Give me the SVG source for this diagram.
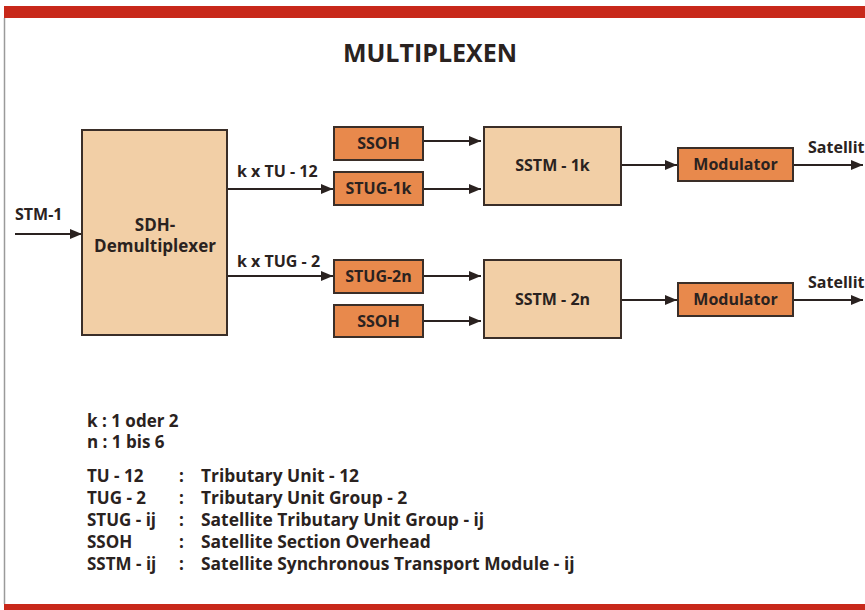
<svg xmlns="http://www.w3.org/2000/svg" width="865" height="610" viewBox="0 0 865 610">
<style>
text{font-family:"Open Sans","Noto Sans","Liberation Sans",sans-serif;font-weight:bold;fill:#2a2220}
.lbl{font-size:16px}
.leg{font-size:17px}
.lg2{font-size:17.4px}
.big{fill:#f2cfa6;stroke:#3a2e28;stroke-width:2}
.org{fill:#e8894c;stroke:#3a2e28;stroke-width:2}
.c{text-anchor:middle}
.ln{stroke:#2a2220;stroke-width:2;fill:none;marker-end:url(#ah)}
</style>
<defs>
<marker id="ah" viewBox="0 0 12 10" refX="12" refY="5" markerWidth="12" markerHeight="10" markerUnits="userSpaceOnUse" orient="auto">
<path d="M0,0 L12,5 L0,10 Z" fill="#2a2220"/>
</marker>
</defs>
<rect x="0" y="0" width="865" height="610" fill="#ffffff"/>
<rect x="4" y="6" width="861" height="12" fill="#c8281a"/>
<rect x="4" y="604" width="861" height="6" fill="#c8281a"/>
<line x1="4.5" y1="18" x2="4.5" y2="604" stroke="#9a9a9a" stroke-width="1.5"/>
<text x="430" y="62" class="c" style="font-size:25px">MULTIPLEXEN</text>

<g id="connectors">
<line x1="15" y1="234" x2="82" y2="234" class="ln"/>
<line x1="228" y1="189" x2="333" y2="189" class="ln"/>
<line x1="228" y1="276" x2="333" y2="276" class="ln"/>
<line x1="424" y1="141" x2="481" y2="141" class="ln"/>
<line x1="424" y1="189" x2="481" y2="189" class="ln"/>
<line x1="424" y1="276" x2="481" y2="276" class="ln"/>
<line x1="424" y1="321" x2="481" y2="321" class="ln"/>
<line x1="622" y1="165" x2="677" y2="165" class="ln"/>
<line x1="622" y1="300" x2="677" y2="300" class="ln"/>
<line x1="794" y1="165" x2="863" y2="165" class="ln"/>
<line x1="794" y1="300" x2="863" y2="300" class="ln"/>
<text x="15" y="220" class="lbl">STM-1</text>
<text x="237" y="177" class="lbl">k x TU - 12</text>
<text x="237" y="267" class="lbl">k x TUG - 2</text>
<text x="808" y="153" class="lbl">Satellit</text>
<text x="808" y="288" class="lbl">Satellit</text>
</g>

<g id="sdh">
<rect x="82" y="130" width="145" height="205" class="big"/>
<text x="155" y="231" class="leg c">SDH-</text>
<text x="155" y="252" class="leg c">Demultiplexer</text>
</g>
<g id="ssoh1">
<rect x="334" y="127" width="89" height="33" class="org"/>
<text x="378.5" y="149" class="lbl c">SSOH</text>
</g>
<g id="stug1k">
<rect x="334" y="172" width="89" height="33" class="org"/>
<text x="378.5" y="194" class="lbl c">STUG-1k</text>
</g>
<g id="stug2n">
<rect x="334" y="260" width="89" height="33" class="org"/>
<text x="378.5" y="282" class="lbl c">STUG-2n</text>
</g>
<g id="ssoh2">
<rect x="334" y="305" width="89" height="32" class="org"/>
<text x="378.5" y="327" class="lbl c">SSOH</text>
</g>
<g id="sstm1k">
<rect x="484" y="127" width="137" height="78" class="big"/>
<text x="552.5" y="171" class="lbl c">SSTM - 1k</text>
</g>
<g id="sstm2n">
<rect x="484" y="260" width="137" height="78" class="big"/>
<text x="552.5" y="305" class="lbl c">SSTM - 2n</text>
</g>
<g id="mod1">
<rect x="678" y="148" width="115" height="33" class="org"/>
<text x="735.5" y="170" class="lbl c">Modulator</text>
</g>
<g id="mod2">
<rect x="678" y="283" width="115" height="33" class="org"/>
<text x="735.5" y="305" class="lbl c">Modulator</text>
</g>

<g id="legend">
<text x="87" y="427" class="leg">k : 1 oder 2</text>
<text x="87" y="448" class="leg">n : 1 bis 6</text>
<text x="87" y="482" class="leg">TU - 12</text>
<text x="87" y="504" class="leg">TUG - 2</text>
<text x="87" y="526" class="leg">STUG - ij</text>
<text x="87" y="548" class="leg">SSOH</text>
<text x="87" y="570" class="leg">SSTM - ij</text>
<text x="179" y="482" class="leg">:</text>
<text x="179" y="504" class="leg">:</text>
<text x="179" y="526" class="leg">:</text>
<text x="179" y="548" class="leg">:</text>
<text x="179" y="570" class="leg">:</text>
<text x="201" y="482" class="lg2">Tributary Unit - 12</text>
<text x="201" y="504" class="lg2">Tributary Unit Group - 2</text>
<text x="201" y="526" class="lg2">Satellite Tributary Unit Group - ij</text>
<text x="201" y="548" class="lg2">Satellite Section Overhead</text>
<text x="201" y="570" class="lg2">Satellite Synchronous Transport Module - ij</text>
</g>
</svg>
